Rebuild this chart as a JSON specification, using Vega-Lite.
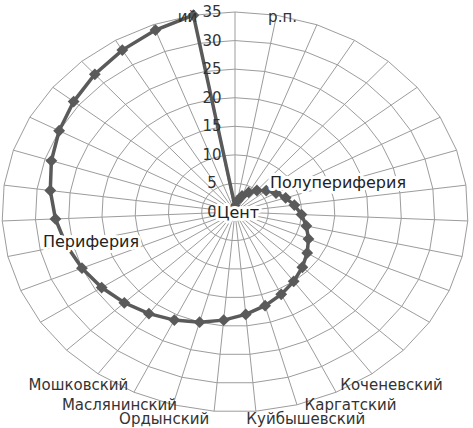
{
  "$schema": "https://vega.github.io/schema/vega-lite/v6.json",
  "width": 473,
  "height": 428,
  "autosize": "none",
  "padding": 0,
  "background": "white",
  "config": {"view": {"stroke": null}, "font": "DejaVu Sans", "text": {"font": "DejaVu Sans"}},
  "datasets": {
    "districts": [
      {"k": 0, "v": 1, "label": ""},
      {"k": 1, "v": 2, "label": "\nр.п."},
      {"k": 2, "v": 3, "label": ""},
      {"k": 3, "v": 4, "label": ""},
      {"k": 4, "v": 5, "label": ""},
      {"k": 5, "v": 6, "label": ""},
      {"k": 6, "v": 7, "label": ""},
      {"k": 7, "v": 8, "label": ""},
      {"k": 8, "v": 9, "label": ""},
      {"k": 9, "v": 10, "label": ""},
      {"k": 10, "v": 11, "label": ""},
      {"k": 11, "v": 12, "label": ""},
      {"k": 12, "v": 13, "label": ""},
      {"k": 13, "v": 14, "label": ""},
      {"k": 14, "v": 15, "label": "Коченевский"},
      {"k": 15, "v": 16, "label": "Каргатский"},
      {"k": 16, "v": 17, "label": "Куйбышевский"},
      {"k": 17, "v": 18, "label": ""},
      {"k": 18, "v": 19, "label": ""},
      {"k": 19, "v": 20, "label": "Ордынский"},
      {"k": 20, "v": 21, "label": "Маслянинский"},
      {"k": 21, "v": 22, "label": "Мошковский"},
      {"k": 22, "v": 23, "label": ""},
      {"k": 23, "v": 24, "label": ""},
      {"k": 24, "v": 25, "label": ""},
      {"k": 25, "v": 26, "label": ""},
      {"k": 26, "v": 27, "label": ""},
      {"k": 27, "v": 28, "label": ""},
      {"k": 28, "v": 29, "label": ""},
      {"k": 29, "v": 30, "label": ""},
      {"k": 30, "v": 31, "label": ""},
      {"k": 31, "v": 32, "label": ""},
      {"k": 32, "v": 33, "label": ""},
      {"k": 33, "v": 34, "label": ""},
      {"k": 34, "v": 35, "label": "\nий"}
    ],
    "levels": [
      {"lvl": 0}, {"lvl": 5}, {"lvl": 10}, {"lvl": 15}, {"lvl": 20}, {"lvl": 25}, {"lvl": 30}, {"lvl": 35}
    ],
    "notes": [
      {"note": "Полупериферия", "r": 16.28, "k": 6.98},
      {"note": "Периферия", "r": 22.26, "k": 24.92},
      {"note": "Цент", "r": 0.48, "k": 10.76}
    ]
  },
  "layer": [
    {
      "data": {"name": "levels"},
      "transform": [
        {"impute": "d", "key": "k", "keyvals": [0,1,2,3,4,5,6,7,8,9,10,11,12,13,14,15,16,17,18,19,20,21,22,23,24,25,26,27,28,29,30,31,32,33,34,35], "groupby": ["lvl"], "value": 0},
        {"filter": "isValid(datum.k) && datum.lvl > 0"},
        {"calculate": "datum.k * 2 * PI / 35", "as": "a"},
        {"calculate": "datum.lvl * sin(datum.a)", "as": "gx"},
        {"calculate": "datum.lvl * cos(datum.a)", "as": "gy"}
      ],
      "mark": {"type": "line", "stroke": "#9c9c9c", "strokeWidth": 1},
      "encoding": {
        "x": {"field": "gx", "type": "quantitative", "scale": {"domain": [-35.3, 35.75], "nice": false, "zero": false}, "axis": null},
        "y": {"field": "gy", "type": "quantitative", "scale": {"domain": [-37.8, 37.1], "nice": false, "zero": false}, "axis": null},
        "detail": {"field": "lvl", "type": "nominal"},
        "order": {"field": "k", "type": "quantitative"}
      }
    },
    {
      "data": {"name": "districts"},
      "transform": [
        {"calculate": "datum.k * 2 * PI / 35", "as": "a"},
        {"calculate": "0", "as": "o"},
        {"calculate": "35 * sin(datum.a)", "as": "sx"},
        {"calculate": "35 * cos(datum.a)", "as": "sy"}
      ],
      "mark": {"type": "rule", "stroke": "#9c9c9c", "strokeWidth": 1},
      "encoding": {
        "x": {"field": "o", "type": "quantitative", "scale": {"domain": [-35.3, 35.75], "nice": false, "zero": false}, "axis": null},
        "y": {"field": "o", "type": "quantitative", "scale": {"domain": [-37.8, 37.1], "nice": false, "zero": false}, "axis": null},
        "x2": {"field": "sx"},
        "y2": {"field": "sy"}
      }
    },
    {
      "data": {"name": "districts"},
      "transform": [
        {"calculate": "datum.k * 2 * PI / 35", "as": "a"},
        {"calculate": "datum.v * sin(datum.a)", "as": "px"},
        {"calculate": "datum.v * cos(datum.a)", "as": "py"}
      ],
      "mark": {"type": "line", "interpolate": "linear-closed", "stroke": "#5a5a5a", "strokeWidth": 3.5},
      "encoding": {
        "x": {"field": "px", "type": "quantitative", "scale": {"domain": [-35.3, 35.75], "nice": false, "zero": false}, "axis": null},
        "y": {"field": "py", "type": "quantitative", "scale": {"domain": [-37.8, 37.1], "nice": false, "zero": false}, "axis": null},
        "order": {"field": "k", "type": "quantitative"}
      }
    },
    {
      "data": {"name": "districts"},
      "transform": [
        {"calculate": "datum.k * 2 * PI / 35", "as": "a"},
        {"calculate": "datum.v * sin(datum.a)", "as": "px"},
        {"calculate": "datum.v * cos(datum.a)", "as": "py"}
      ],
      "mark": {"type": "point", "shape": "diamond", "filled": true, "fill": "#5a5a5a", "size": 140, "opacity": 1},
      "encoding": {
        "x": {"field": "px", "type": "quantitative", "scale": {"domain": [-35.3, 35.75], "nice": false, "zero": false}, "axis": null},
        "y": {"field": "py", "type": "quantitative", "scale": {"domain": [-37.8, 37.1], "nice": false, "zero": false}, "axis": null}
      }
    },
    {
      "data": {"name": "districts"},
      "transform": [
        {"filter": "datum.label != ''"},
        {"calculate": "datum.k * 2 * PI / 35", "as": "a"},
        {"calculate": "40 * sin(datum.a)", "as": "lx"},
        {"calculate": "37.5 * cos(datum.a)", "as": "ly"}
      ],
      "mark": {"type": "text", "fontSize": 15, "fill": "#333333", "align": "center", "baseline": "middle", "lineBreak": "\n", "lineHeight": 16},
      "encoding": {
        "x": {"field": "lx", "type": "quantitative", "scale": {"domain": [-35.3, 35.75], "nice": false, "zero": false}, "axis": null},
        "y": {"field": "ly", "type": "quantitative", "scale": {"domain": [-37.8, 37.1], "nice": false, "zero": false}, "axis": null},
        "text": {"field": "label", "type": "nominal"}
      }
    },
    {
      "data": {"name": "levels"},
      "transform": [{"calculate": "0", "as": "o"}],
      "mark": {"type": "text", "fontSize": 15, "fill": "#333333", "align": "center", "baseline": "middle", "dx": -23},
      "encoding": {
        "x": {"field": "o", "type": "quantitative", "scale": {"domain": [-35.3, 35.75], "nice": false, "zero": false}, "axis": null},
        "y": {"field": "lvl", "type": "quantitative", "scale": {"domain": [-37.8, 37.1], "nice": false, "zero": false}, "axis": null},
        "text": {"field": "lvl", "type": "quantitative"}
      }
    },
    {
      "data": {"name": "notes"},
      "transform": [
        {"calculate": "datum.k * 2 * PI / 35", "as": "a"},
        {"calculate": "datum.r * sin(datum.a)", "as": "nx"},
        {"calculate": "datum.r * cos(datum.a)", "as": "ny"}
      ],
      "mark": {"type": "text", "fontSize": 16, "fill": "white", "stroke": "white", "strokeWidth": 6, "strokeJoin": "round", "align": "center", "baseline": "middle"},
      "encoding": {
        "x": {"field": "nx", "type": "quantitative", "scale": {"domain": [-35.3, 35.75], "nice": false, "zero": false}, "axis": null},
        "y": {"field": "ny", "type": "quantitative", "scale": {"domain": [-37.8, 37.1], "nice": false, "zero": false}, "axis": null},
        "text": {"field": "note", "type": "nominal"}
      }
    },
    {
      "data": {"name": "notes"},
      "transform": [
        {"calculate": "datum.k * 2 * PI / 35", "as": "a"},
        {"calculate": "datum.r * sin(datum.a)", "as": "nx"},
        {"calculate": "datum.r * cos(datum.a)", "as": "ny"}
      ],
      "mark": {"type": "text", "fontSize": 16, "fill": "#222222", "align": "center", "baseline": "middle"},
      "encoding": {
        "x": {"field": "nx", "type": "quantitative", "scale": {"domain": [-35.3, 35.75], "nice": false, "zero": false}, "axis": null},
        "y": {"field": "ny", "type": "quantitative", "scale": {"domain": [-37.8, 37.1], "nice": false, "zero": false}, "axis": null},
        "text": {"field": "note", "type": "nominal"}
      }
    }
  ]
}
